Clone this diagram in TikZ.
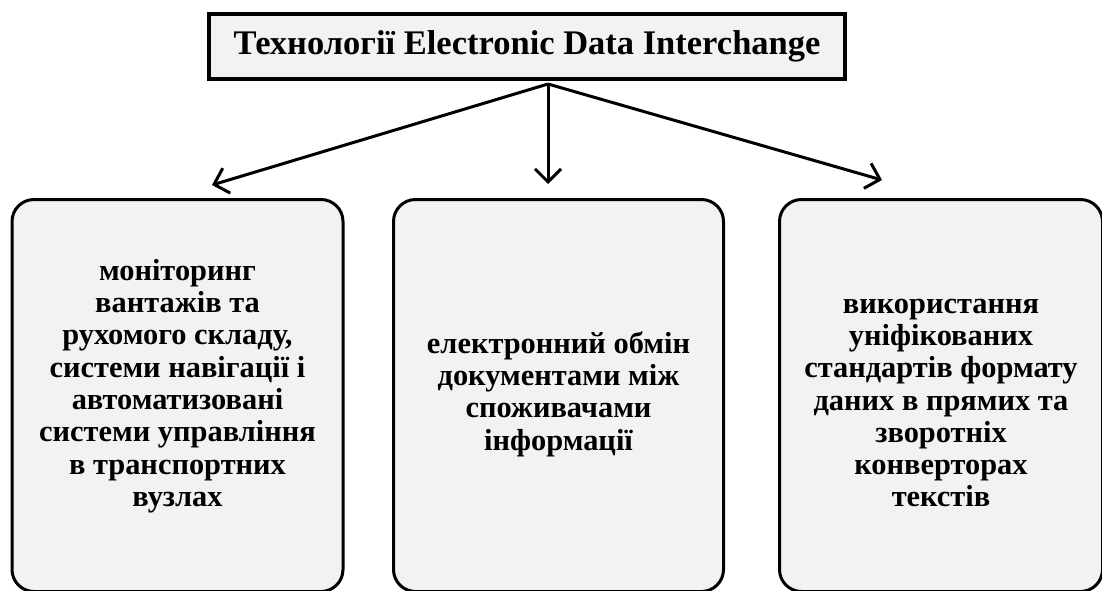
\documentclass[tikz,border=0pt]{standalone}
\usepackage{fontspec}
\setmainfont{Liberation Serif}
\usetikzlibrary{arrows.meta,calc}
\definecolor{boxgray}{HTML}{F2F2F2}
\begin{document}
\begin{tikzpicture}[x=1pt,y=-1pt,
  box/.style={draw, line width=3pt, rounded corners=22pt, fill=boxgray, inner sep=0pt},
  titlebox/.style={draw, line width=4pt, fill=boxgray, inner sep=0pt, font=\bfseries\fontsize{34.5}{38}\selectfont},
  txt/.style={font=\bfseries\fontsize{30.4}{32.3}\selectfont, align=center, inner sep=0pt},
  arr/.style={line width=3pt, -{Straight Barb[length=13pt,width=26pt,line width=3pt]}}]
\useasboundingbox (0,0) rectangle (1102,590);
\clip (0,0) rectangle (1102,590);
\node[titlebox, minimum width=636pt, minimum height=65pt] (top) at (527,46.5) {Технології Electronic Data Interchange};
\node[box, minimum width=331pt, minimum height=392pt] (lbox) at (177.5,395.5) {};
\node[box, minimum width=330pt, minimum height=392pt] (mbox) at (558.5,395.5) {};
\node[box, minimum width=323pt, minimum height=392pt] (rbox) at (941,395.5) {};
\node[txt] (ltxt) at (177.5,386) {моніторинг\\вантажів та\\рухомого складу,\\системи навігації і\\автоматизовані\\системи управління\\в транспортних\\вузлах};
\node[txt] (mtxt) at (558.5,394) {електронний обмін\\документами між\\споживачами\\інформації};
\node[txt] (rtxt) at (941,403) {використання\\уніфікованих\\стандартів формату\\даних в прямих та\\зворотніх\\конверторах\\текстів};
\coordinate (src) at ($(top.south)+(21,3)$);
\coordinate (lend) at (212,185);
\coordinate (mend) at (548,184);
\coordinate (rend) at (882,180);
\draw[arr] (src) -- (lend);
\draw[arr] (src) -- (mend);
\draw[arr] (src) -- (rend);
\end{tikzpicture}
\end{document}
